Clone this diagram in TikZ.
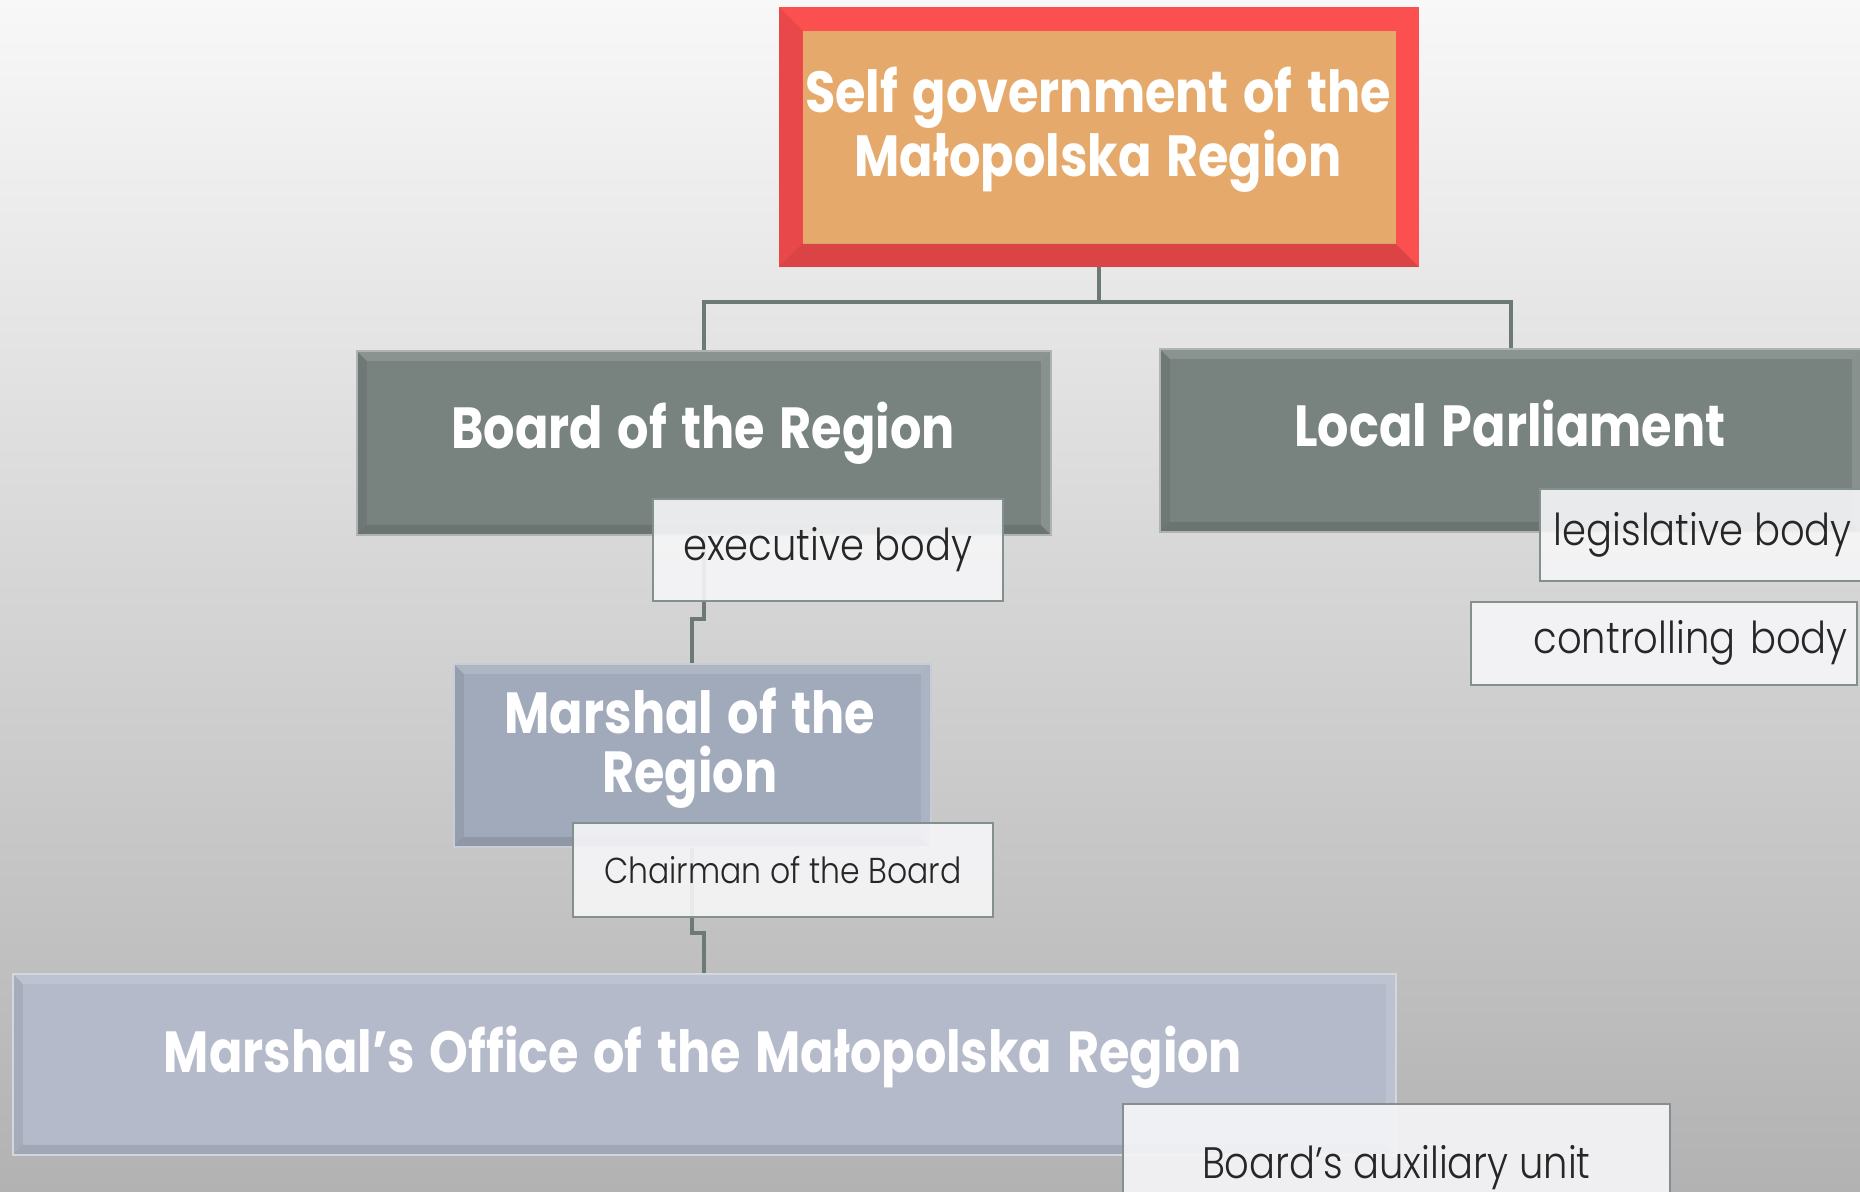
\documentclass[tikz, border = 0pt]{standalone}
\usepackage{fontspec}
\usetikzlibrary{backgrounds}

\newfontfamily\headfont[FakeStretch = 0.85, WordSpace = 1.4]{Poppins}
\newfontfamily\tagfont[FakeStretch = 0.875]{Poppins Light}

\definecolor{bgtop}{HTML}{F8F8F8}
\definecolor{bgbottom}{HTML}{B2B2B2}
\definecolor{framered}{HTML}{FC4F50}
\definecolor{titleorange}{HTML}{E5AA6B}
\definecolor{boardgrey}{HTML}{78827F}
\definecolor{marshalblue}{HTML}{A1AABB}
\definecolor{officeblue}{HTML}{B4BACA}
\definecolor{tagwhite}{HTML}{F6F6F8}
\definecolor{tagborder}{HTML}{84908D}
\definecolor{tagtext}{HTML}{262626}
\definecolor{linkgrey}{HTML}{6D7975}

\begin{document}
\begin{tikzpicture}[x = 0.5pt, y = -0.5pt,
		link/.style = {draw = linkgrey, line width = 2pt},
		box/.style = {rectangle, anchor = north west, inner sep = 0pt},
		bevel/.style = {path picture = {
			\fill [white, opacity = 0.14] (path picture bounding box.north west) -- (path picture bounding box.north east)
				-- ([shift = {(-5pt, -5pt)}] path picture bounding box.north east) -- ([shift = {(5pt, -5pt)}] path picture bounding box.north west) -- cycle;
			\fill [white, opacity = 0.12] (path picture bounding box.north east) -- (path picture bounding box.south east)
				-- ([shift = {(-5pt, 5pt)}] path picture bounding box.south east) -- ([shift = {(-5pt, -5pt)}] path picture bounding box.north east) -- cycle;
			\fill [black, opacity = 0.1] (path picture bounding box.south west) -- (path picture bounding box.south east)
				-- ([shift = {(-5pt, 5pt)}] path picture bounding box.south east) -- ([shift = {(5pt, 5pt)}] path picture bounding box.south west) -- cycle;
			\fill [black, opacity = 0.07] (path picture bounding box.north west) -- (path picture bounding box.south west)
				-- ([shift = {(5pt, 5pt)}] path picture bounding box.south west) -- ([shift = {(5pt, -5pt)}] path picture bounding box.north west) -- cycle;
		}},
		heading/.style = {text = white, align = center, font = \headfont\bfseries\fontsize{29}{29.5}\selectfont},
		tag/.style = {box, fill = tagwhite, fill opacity = 0.9, text opacity = 1, draw = tagborder, line width = 0.8pt,
			text = tagtext, font = \tagfont\fontsize{22}{26}\selectfont}]

	\useasboundingbox (0, 0) rectangle (1860, 1191);
	\clip (0, 0) rectangle (1860, 1191);

	% Self government
	
	\node [box, fill = titleorange, draw = framered, line width = 11.75pt, minimum width = 308.25pt, minimum height = 118.25pt] (selfgov) at (779, 7) {};
	\fill [black, opacity = 0.13] (selfgov.south west) -- (selfgov.south east) -- ([shift = {(-11.75pt, 11.75pt)}] selfgov.south east)
		-- ([shift = {(11.75pt, 11.75pt)}] selfgov.south west) -- cycle;
	\fill [black, opacity = 0.08] (selfgov.north west) -- (selfgov.south west) -- ([shift = {(11.75pt, 11.75pt)}] selfgov.south west)
		-- ([shift = {(11.75pt, -11.75pt)}] selfgov.north west) -- cycle;
	\node [heading] (selfgovtext) at (1098, 130) {Self government of the\\Małopolska Region};
	
	% Board and parliament
	
	\node [box, bevel, fill = boardgrey, draw = boardgrey!60!white, line width = 0.8pt, minimum width = 347pt, minimum height = 92pt] (board) at (356, 350) {};
	\node [heading, anchor = base] (boardtext) at (703, 448) {Board of the Region};
	\node [tag, minimum width = 175pt, minimum height = 51pt] (executive) at (652, 498) {executive body};
	
	\node [box, bevel, fill = boardgrey, draw = boardgrey!60!white, line width = 0.8pt, minimum width = 351pt, minimum height = 91.5pt] (parliament) at (1159, 348) {};
	\node [heading, anchor = base] (parliamenttext) at (1510, 446) {Local Parliament};
	\node [tag, minimum width = 163pt, minimum height = 46pt] (legislative) at (1539, 488) {legislative body};
	\node [tag, text width = 184pt, inner xsep = 4.5pt, align = right, minimum height = 41.5pt] (controlling) at (1470, 601) {controlling body};
	
	% Marshal
	
	\node [box, bevel, fill = marshalblue, draw = marshalblue!60!white, line width = 0.8pt, minimum width = 238.5pt, minimum height = 91.5pt] (marshal) at (453, 663) {};
	\node [heading] (marshaltext) at (690, 748) {Marshal of the\\Region};
	\node [tag, font = \tagfont\fontsize{18}{22}\selectfont, minimum width = 210pt, minimum height = 47pt] (chairman) at (572, 822) {Chairman of the Board};
	
	% Marshal's office
	
	\node [box, bevel, fill = officeblue, draw = officeblue!60!white, line width = 0.8pt, minimum width = 691.5pt, minimum height = 90.5pt] (office) at (12, 973) {};
	\node [heading, anchor = base] (officetext) at (703, 1072) {Marshal’s Office of the Małopolska Region};
	\node [tag, minimum width = 273.5pt, minimum height = 63.5pt] (auxiliary) at (1122, 1103) {Board’s auxiliary unit};
	
	% Background and links
	
	\begin{scope}[on background layer]
		\shade [top color = bgtop, bottom color = bgbottom] (0, 0) rectangle (1860, 1191);
		\draw [link] (selfgov.south) -- ++(0, 35) -| (board.north);
		\draw [link] (selfgov.south) -- ++(0, 35) -| (parliament.north);
		\draw [link] (board.south) -- ++(0, 83) -| (marshal.north);
		\draw [link] (marshal.south) -- ++(0, 85) -| (office.north);
	\end{scope}
	
\end{tikzpicture}
\end{document}
